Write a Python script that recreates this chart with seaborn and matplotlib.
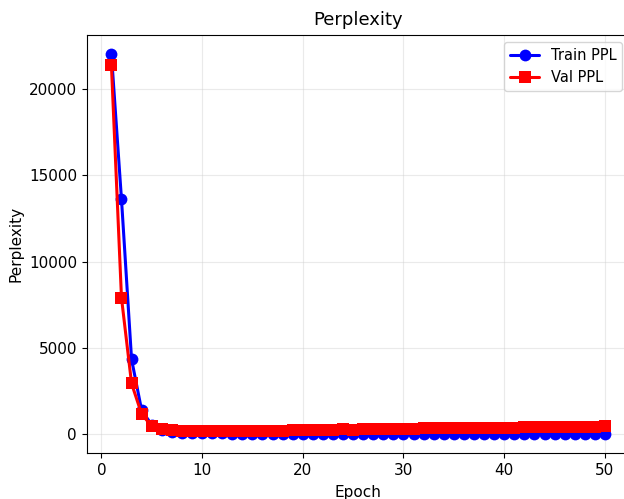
import matplotlib
matplotlib.use("Agg")
import matplotlib.pyplot as plt
import seaborn as sns
import pandas as pd

epochs = list(range(1, 51))
train_ppl = [22000, 13600, 4350, 1400, 560, 260, 150, 110, 90, 76,
             66, 58, 53, 49, 46, 43, 41, 39, 37, 36,
             35, 34, 33, 32, 31, 31, 30, 30, 29, 29,
             28, 28, 28, 27, 27, 27, 26, 26, 26, 26,
             25, 25, 25, 25, 24, 24, 24, 24, 24, 23]
val_ppl = [21350, 7900, 2950, 1180, 480, 300, 240, 210, 195, 185,
           195, 185, 190, 195, 200, 210, 215, 225, 235, 240,
           250, 265, 280, 290, 270, 300, 320, 340, 310, 320,
           315, 370, 360, 365, 375, 370, 380, 385, 390, 395,
           400, 410, 420, 415, 440, 430, 440, 450, 460, 470]

df = pd.DataFrame({"Epoch": epochs, "Train PPL": train_ppl, "Val PPL": val_ppl})

sns.set_style("ticks")
plt.rcParams.update({"text.color": "black", "axes.labelcolor": "black",
                     "xtick.color": "black", "ytick.color": "black",
                     "axes.edgecolor": "black"})
fig = plt.figure(figsize=(6.24, 4.99), dpi=100)
ax = fig.add_axes([0.139, 0.092, 0.870, 0.838])

sns.lineplot(x="Epoch", y="Train PPL", data=df, marker="o", color="b",
             linewidth=2.2, markersize=8.5, markeredgewidth=0, label="Train PPL", ax=ax)
sns.lineplot(x="Epoch", y="Val PPL", data=df, marker="s", color="r",
             linewidth=2.2, markersize=8.5, markeredgewidth=0, label="Val PPL", ax=ax)

ax.set_title("Perplexity", fontsize=13, pad=7)
ax.set_xlabel("Epoch", fontsize=11, labelpad=5)
ax.set_ylabel("Perplexity", fontsize=11)
ax.tick_params(labelsize=11)
ax.grid(True, alpha=0.4)
ax.legend(loc="upper right", fontsize=10.5)

fig.savefig("out.png", dpi=100)
